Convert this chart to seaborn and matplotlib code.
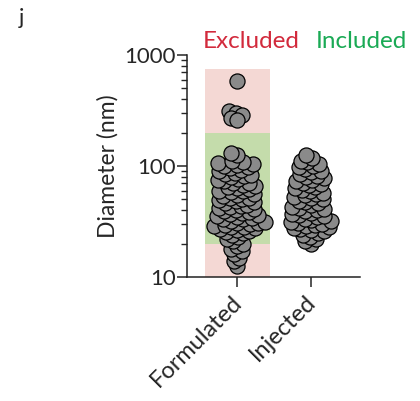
import numpy as np
import pandas as pd
import matplotlib
matplotlib.use("Agg")
import matplotlib.pyplot as plt
import matplotlib.transforms as mtrans
import seaborn as sns

# Particle diameters (nm) per sample group
groups = ["Formulated", "Injected"]
formulated_nm = [
    580, 310, 300, 285, 270, 260,
    12.5, 14, 15, 16, 17, 18, 19,
    20, 21, 22, 23, 24,
    25, 25.5, 26, 26.5, 27, 27.5, 28, 28.5, 29, 29.5, 30, 30.5, 31, 31.5,
    32, 33, 33.5, 34, 35, 35.5, 36, 37, 38, 38.5, 39, 40, 41, 42, 43, 44,
    45, 46, 47, 48, 49, 50, 51, 52, 54, 55, 56, 58, 59, 60, 62, 63, 65, 66,
    68, 70, 71, 73, 75, 77, 79, 81, 83, 85, 87, 90, 92, 95, 97, 100, 102,
    104, 106, 108, 110, 125, 130,
]
injected_nm = [
    20, 21, 22, 23, 24,
    25, 25.8, 26.4, 27, 27.6, 28.2, 28.8, 29.4, 30, 30.6, 31.2, 32, 32.8,
    33.6, 34.4, 35.2, 36, 37, 38, 39, 40, 41, 42, 43, 44.5, 46, 47, 48.5,
    50, 51.5, 53, 54.5, 56, 57.5, 59, 61, 63, 65, 67, 69, 71, 73, 75, 77.5,
    80, 82, 85, 88, 91, 94, 97, 100, 104, 108, 112, 118, 125,
]
# Size windows: excluded range (whole band) and included range
excluded_range = (10, 750)
included_range = (20, 200)
y_ticks = [10, 100, 1000]

df = pd.DataFrame({
    "group": [groups[0]] * len(formulated_nm) + [groups[1]] * len(injected_nm),
    "diameter": formulated_nm + injected_nm,
})

sns.set_style("ticks")
plt.rcParams["font.family"] = ["Lato", "DejaVu Sans"]

fig = plt.figure(figsize=(4.2, 4.01), dpi=100)
ax = fig.add_axes([0.445, 0.309, 0.412, 0.554])
ax.set_yscale("log")

red_c = "#d22a3c"
green_c = "#1aaa55"

# Shaded size windows behind the first group
band_half = 0.44
ax.fill_between([-band_half, band_half], excluded_range[0], excluded_range[1],
                color="#f4d8d4", lw=0, zorder=0)
ax.fill_between([-band_half, band_half], included_range[0], included_range[1],
                color="#c4dcab", lw=0, zorder=0.5)

ax.set_ylim(10, 1000)
ax.set_xlim(-0.68, 1.66)

# Swarm layout computed with small markers, then drawn larger so they overlap
sns.swarmplot(data=df, x="group", y="diameter", order=groups, ax=ax,
              size=3.7, color="#8a8a8a", edgecolor="black", linewidth=0.9,
              zorder=3, warn_thresh=1.0)
ax.set_ylim(10, 1000)
ax.set_xlim(-0.68, 1.66)
fig.canvas.draw()
for coll in ax.collections:
    if coll.get_offsets().shape[0] > 10:
        if "draw" in coll.__dict__:
            del coll.draw
        coll.set_sizes([118])
        coll.set_linewidth(0.9)
        coll.set_edgecolor("black")

ax.set_yticks(y_ticks)
ax.set_yticklabels([str(t) for t in y_ticks], fontsize=16)
ax.tick_params(axis="y", which="major", length=7, width=1.1, pad=1)
ax.tick_params(axis="y", which="minor", length=4, width=1.0)
ax.tick_params(axis="x", length=7, width=1.1)
ax.set_xticks([0, 1])
ax.set_xticklabels(groups, rotation=45, ha="right", rotation_mode="anchor",
                   fontsize=17)
shift = mtrans.ScaledTranslation(-6 / 100, 0, fig.dpi_scale_trans)
for lab in ax.get_xticklabels():
    lab.set_transform(lab.get_transform() + shift)
ax.set_xlabel("")
ax.set_ylabel("Diameter (nm)", fontsize=16.5, labelpad=4)
for s in ["top", "right"]:
    ax.spines[s].set_visible(False)
for s in ["left", "bottom"]:
    ax.spines[s].set_linewidth(1.1)
    ax.spines[s].set_color("#222222")

fig.text(0.483, 0.87, "Excluded", color=red_c, fontsize=17.5, va="bottom")
fig.text(0.752, 0.87, "Included", color=green_c, fontsize=17.5, va="bottom")
fig.text(0.045, 0.93, "j", fontsize=16, va="bottom")

fig.savefig("out.png", dpi=100)
